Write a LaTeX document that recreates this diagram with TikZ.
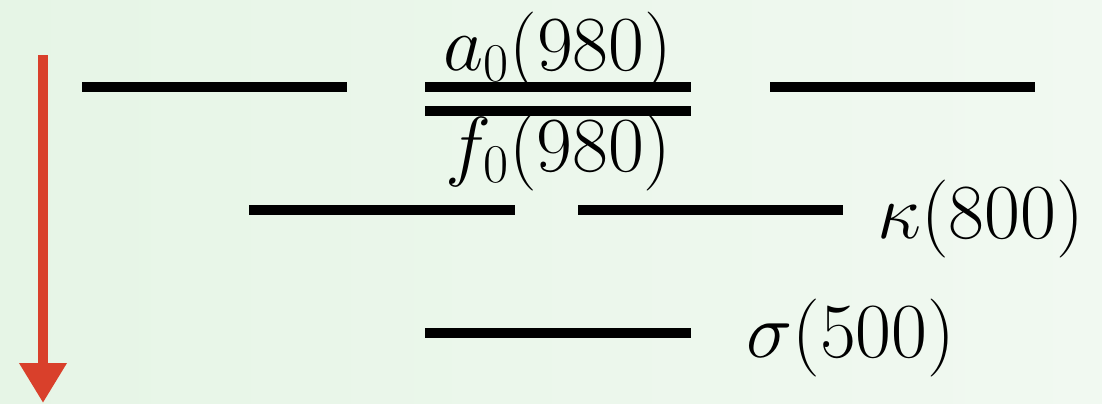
\documentclass[tikz,border=0pt]{standalone}
\usepackage{fix-cm}
\usetikzlibrary{arrows.meta}
\definecolor{bgleft}{HTML}{E6F5E6}
\definecolor{bgright}{HTML}{F1F9F1}
\definecolor{arrowred}{HTML}{D9402B}
\begin{document}
\begin{tikzpicture}[x=0.5pt,y=-0.5pt,
  level/.style={line width=5pt, line cap=butt},
  lbl/.style={anchor=base west, inner sep=0pt, font=\fontsize{39}{45}\selectfont}]
\useasboundingbox (0,0) rectangle (1102,403);
\shade[left color=bgleft, right color=bgright] (0,0) rectangle (1102,403);
% arrow
\coordinate (atop) at (43,55);
\coordinate (abot) at (43,403);
\draw[arrowred, line width=5pt, -{Triangle[width=22.5pt,length=20pt]}] (atop) -- (abot);
% levels
\draw[level] (82,87) -- (347,87);
\draw[level] (425,87) -- (691,87);
\draw[level] (425,111) -- (691,111);
\draw[level] (770,87) -- (1035,87);
\draw[level] (249,210) -- (515,210);
\draw[level] (578,210) -- (843,210);
\draw[level] (425,333) -- (691,333);
% labels
\node[lbl] (la) at (443,70) {$a_0(980)$};
\node[lbl] (lf) at (445,171) {$f_0(980)$};
\node[lbl] (lk) at (877,238) {$\kappa(800)$};
\node[lbl] (ls) at (746,357) {$\sigma(500)$};
\end{tikzpicture}
\end{document}
